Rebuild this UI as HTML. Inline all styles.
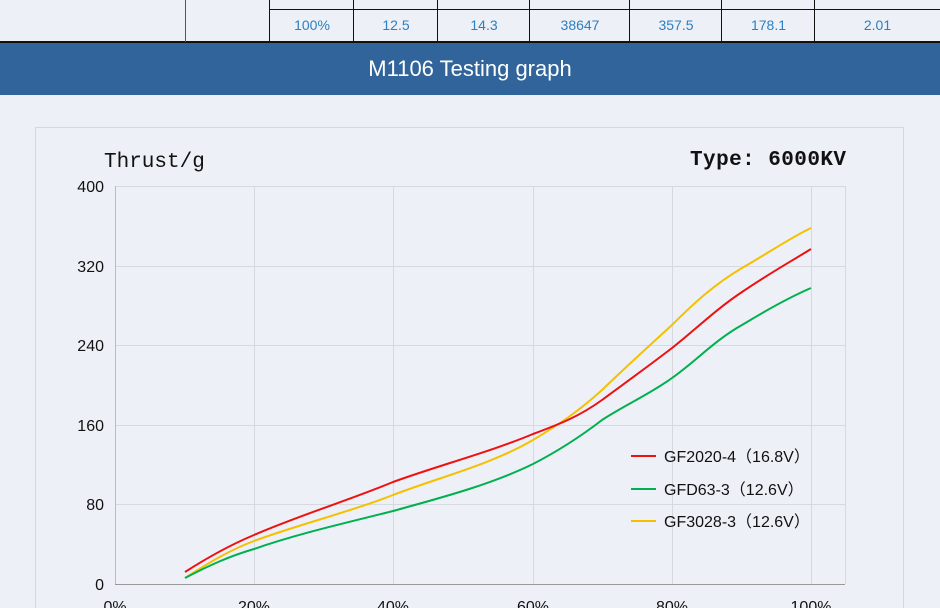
<!DOCTYPE html>
<html><head><meta charset="utf-8"><style>
body{margin:0;width:940px;height:608px;overflow:hidden;background:#edf1f7;font-family:"Liberation Sans","Noto Sans CJK SC",sans-serif;position:relative}
.c{position:absolute;top:9px;height:33px;line-height:33px;text-align:center;color:#2c7fc0;font-size:14px}
.v{position:absolute;top:0;width:1px;background:#111}
</style></head><body>
<div style="position:absolute;left:269px;right:0;top:9px;height:1px;background:#111"></div>
<div style="position:absolute;left:0;right:0;top:41px;height:2px;background:#111"></div>
<div class="v" style="left:185px;height:42px;background:#555"></div>
<div class="v" style="left:269px;height:42px"></div>
<div class="v" style="left:353px;height:42px"></div>
<div class="v" style="left:437px;height:42px"></div>
<div class="v" style="left:529px;height:42px"></div>
<div class="v" style="left:629px;height:42px"></div>
<div class="v" style="left:721px;height:42px"></div>
<div class="v" style="left:814px;height:42px"></div>
<div class="c" style="left:270px;width:84px">100%</div>
<div class="c" style="left:354px;width:84px">12.5</div>
<div class="c" style="left:438px;width:92px">14.3</div>
<div class="c" style="left:530px;width:100px">38647</div>
<div class="c" style="left:630px;width:92px">357.5</div>
<div class="c" style="left:722px;width:93px">178.1</div>
<div class="c" style="left:815px;width:125px">2.01</div>
<div style="position:absolute;left:0;right:0;top:43px;height:52px;background:#31649a;color:#fff;font-size:22px;text-align:center;line-height:52px">M1106 Testing graph</div>
<svg width="940" height="608" style="position:absolute;left:0;top:0" font-family="Liberation Sans, sans-serif">
<rect x="35.5" y="127.5" width="868" height="490" fill="none" stroke="#d5d9de"/>
<g stroke="#d6d9de" stroke-width="1">
<line x1="115" y1="186.5" x2="845" y2="186.5"/><line x1="115" y1="266.5" x2="845" y2="266.5"/>
<line x1="115" y1="345.5" x2="845" y2="345.5"/><line x1="115" y1="425.5" x2="845" y2="425.5"/>
<line x1="115" y1="504.5" x2="845" y2="504.5"/>
<line x1="254.5" y1="186" x2="254.5" y2="584"/><line x1="393.5" y1="186" x2="393.5" y2="584"/>
<line x1="533.5" y1="186" x2="533.5" y2="584"/><line x1="672.5" y1="186" x2="672.5" y2="584"/>
<line x1="811.5" y1="186" x2="811.5" y2="584"/><line x1="845.5" y1="186" x2="845.5" y2="584"/>
</g>
<line x1="115.5" y1="186" x2="115.5" y2="584" stroke="#bbb"/>
<line x1="115" y1="584.5" x2="845" y2="584.5" stroke="#999"/>
<g font-size="16" fill="#111" text-anchor="end">
<text x="104" y="192">400</text><text x="104" y="272">320</text><text x="104" y="351">240</text>
<text x="104" y="431">160</text><text x="104" y="510">80</text><text x="104" y="590">0</text>
</g>
<g font-size="16" fill="#111" text-anchor="middle">
<text x="115" y="612">0%</text><text x="254" y="612">20%</text><text x="393" y="612">40%</text>
<text x="533" y="612">60%</text><text x="672" y="612">80%</text><text x="811" y="612">100%</text>
</g>
<text x="104" y="167" font-size="21" font-family="Liberation Mono, monospace" fill="#111">Thrust/g</text>
<text x="846" y="165" font-size="21" font-family="Liberation Mono, monospace" fill="#111" text-anchor="end" font-weight="bold" textLength="156">Type:  6000KV</text>
<g fill="none" stroke-width="2">
<path stroke="#f5c000" d="M185,578 C210,562 230,550 254,541 C300,524 350,512 393,495 C440,477 490,465 533,440 C560,424 580,410 602,390 C625,368 650,345 672,325 C695,302 715,284 742,268 C770,252 790,238 811,228"/>
<path stroke="#00b050" d="M185,578 C210,565 230,556 254,549 C300,533 350,522 393,511 C440,498 490,485 533,464 C560,450 580,437 602,420 C625,405 650,394 672,378 C695,362 715,340 742,325 C770,308 790,297 811,288"/>
<path stroke="#ee1111" d="M185,572 C210,556 230,545 254,535 C300,515 350,500 393,482 C440,465 490,452 533,434 C560,424 580,416 602,400 C625,383 650,365 672,348 C695,330 715,310 742,292 C770,273 790,262 811,249"/>
</g>
<g stroke-width="2"><line x1="631" y1="456" x2="656" y2="456" stroke="#ee1111"/>
<line x1="631" y1="489" x2="656" y2="489" stroke="#00b050"/>
<line x1="631" y1="521" x2="656" y2="521" stroke="#f5c000"/></g>
<g font-size="16" fill="#111" font-family="Liberation Sans, Noto Sans CJK SC, sans-serif">
<text x="664" y="462">GF2020-4（16.8V）</text>
<text x="664" y="495">GFD63-3（12.6V）</text>
<text x="664" y="527">GF3028-3（12.6V）</text>
</g>
</svg>
</body></html>
